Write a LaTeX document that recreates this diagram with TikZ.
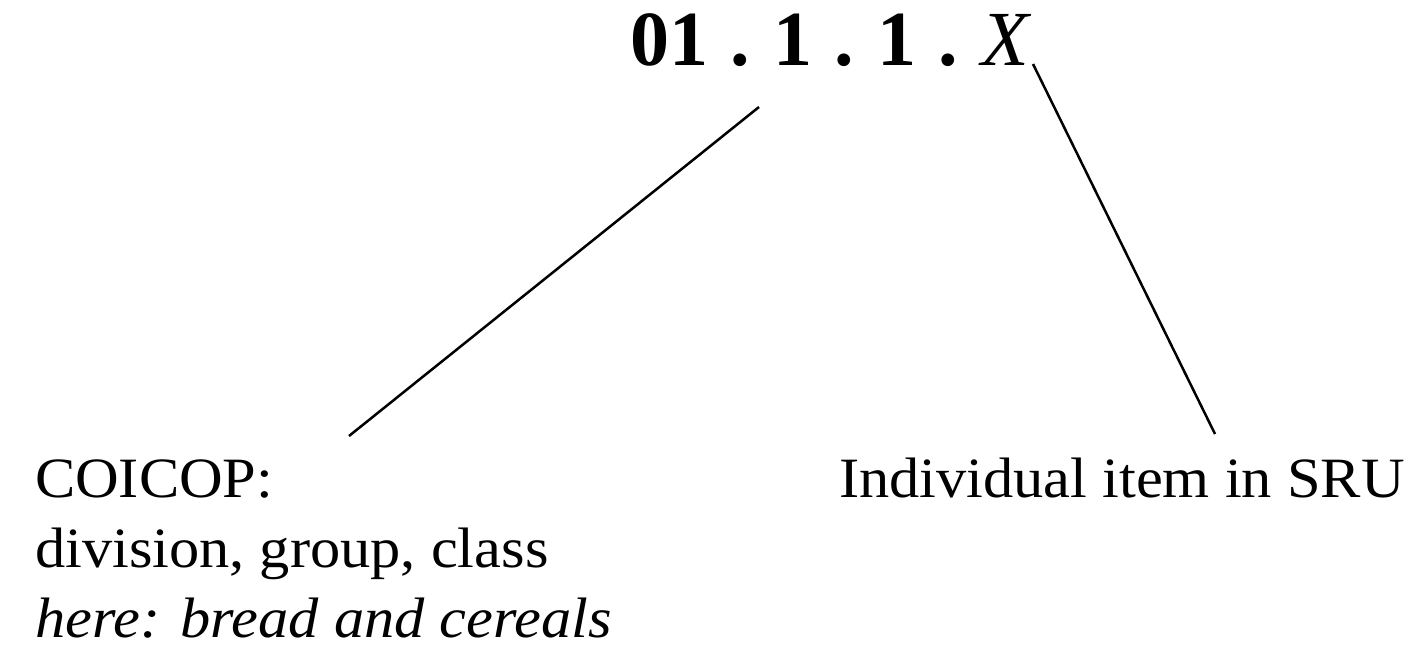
\documentclass[tikz,border=0pt]{standalone}
\usepackage{fontspec}
\setmainfont{Liberation Serif}
\newfontfamily\labelfont[FakeStretch=1.06]{Liberation Serif}
\newcommand{\gap}{\hspace{11.4pt}}
\usetikzlibrary{positioning}

\begin{document}
\begin{tikzpicture}[x=0.5pt, y=-0.5pt,
    every node/.style={inner sep=0pt, outer sep=0pt},
    label/.style={font=\labelfont\fontsize{28.5}{35}\selectfont, align=left},
    link/.style={draw, line width=1.25pt}]
    \useasboundingbox (0,0) rectangle (1417,648);
    \node[anchor=base west, font=\fontsize{39}{42}\selectfont] (code) at (630,65)
        {\textbf{01\gap.\gap1\gap.\gap1\gap.}\gap\textit{X}};
    \node[label, anchor=base west] (coicop) at (35,637)
        {COICOP:\\ division, group, class\\ \textit{here: bread and cereals}};
    \node[label, anchor=base west] (item) at (839,497) {Individual item in SRU};
    % connectors
    \coordinate (codemid) at (759,107);
    \coordinate (coicoptop) at (349,436);
    \coordinate (codeend) at (1033,64);
    \coordinate (itemtop) at (1215,434);
    \draw[link] (codemid) -- (coicoptop);
    \draw[link] (codeend) -- (itemtop);
\end{tikzpicture}
\end{document}
